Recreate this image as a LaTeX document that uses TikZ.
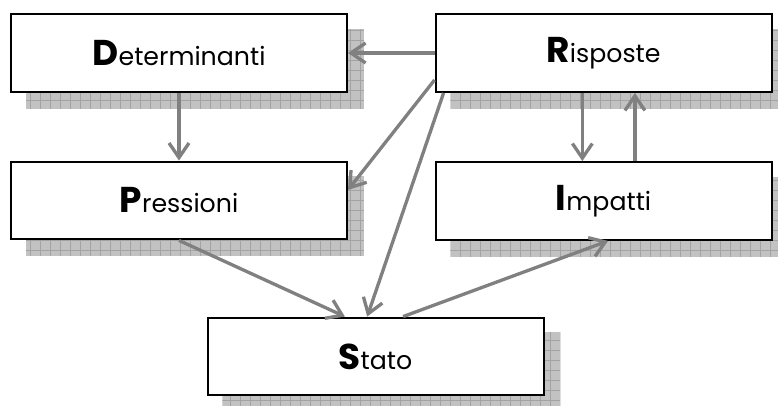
\documentclass[tikz,border=0pt]{standalone}
\usepackage{fontspec}
\setmainfont{Poppins}
\usetikzlibrary{arrows.meta,backgrounds}
\tikzset{
  box/.style={draw=black,line width=1.5pt,fill=white,minimum width=8.89cm,minimum height=2.06cm,inner sep=0pt},
  link/.style={draw=gray,line width=2.5pt,-{Straight Barb[length=11pt,width=15pt]}},
  shade/.style={fill=black!24},
  shadegrid/.style={draw=black!36,line width=.6pt}
}
\newcommand{\lbl}[2]{{\fontsize{27}{30}\selectfont\bfseries #1}{\fontsize{19}{23}\selectfont #2}}
\begin{document}
\begin{tikzpicture}
\useasboundingbox (0,0) rectangle (20.584,-10.716);
\node[box] (det) at (4.736,-1.402) {\lbl{D}{eterminanti}};
\node[box] (ris) at (15.968,-1.402) {\lbl{R}{isposte}};
\node[box] (pre) at (4.736,-5.305) {\lbl{P}{ressioni}};
\node[box] (imp) at (15.968,-5.318) {\lbl{I}{mpatti}};
\node[box] (sta) at (9.935,-9.432) {\lbl{S}{tato}};
% hatched shadows
\begin{scope}[on background layer]
\foreach \n in {det,ris,pre,imp,sta}{
  \begin{scope}
  \clip ([shift={(.42,-.42)}]\n.south west) rectangle ([shift={(.42,-.42)}]\n.north east);
  \fill[shade] ([shift={(.42,-.42)}]\n.south west) rectangle ([shift={(.42,-.42)}]\n.north east);
  \draw[shadegrid,step=.2646] ([shift={(.42,-.42)}]\n.south west) grid ([shift={(.42,-.42)}]\n.north east);
  \end{scope}}
\end{scope}
% links
\draw[link] (ris.west) -- (det.east);
\draw[link] (det.south) -- (pre.north);
\draw[link] ([yshift=-.714cm]ris.west) -- ([yshift=.28cm]pre.east);
\draw[link] ([xshift=.24cm]ris.south west) -- ([xshift=-.22cm]sta.north);
\draw[link] (pre.south) -- ([xshift=-.81cm]sta.north);
\draw[link] ([xshift=.73cm]sta.north) -- ([xshift=.12cm]imp.south);
\draw[link] ([xshift=-.56cm]ris.south) -- ([xshift=-.56cm]imp.north);
\draw[link] ([xshift=.83cm]imp.north) -- ([xshift=.83cm]ris.south);
\end{tikzpicture}
\end{document}
